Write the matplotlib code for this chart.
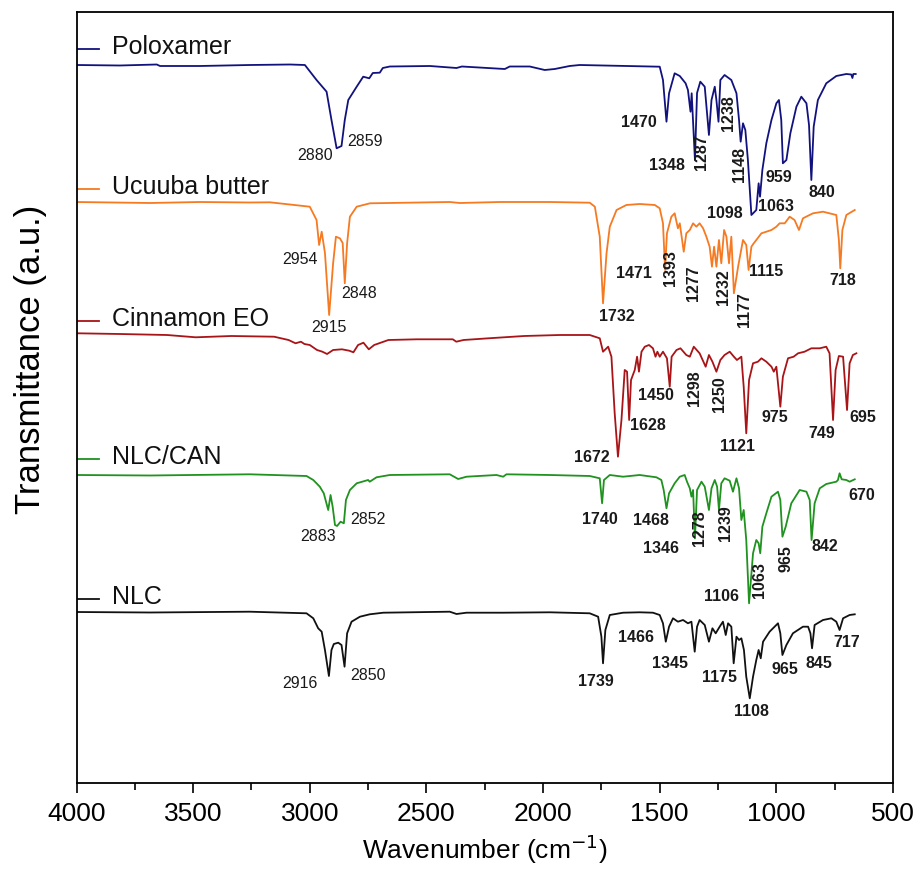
import matplotlib
matplotlib.use("Agg")
import matplotlib.pyplot as plt
from matplotlib.ticker import MultipleLocator

plt.rcParams['font.family'] = ['Liberation Sans', 'DejaVu Sans']

# ---------------- data (wavenumber in cm-1, transmittance in a.u., relative to each baseline) -------------
series_names = ["Poloxamer", "Ucuuba butter", "Cinnamon EO", "NLC/CAN", "NLC"]
series_colors = ["#12127e", "#f57a22", "#a81417", "#1f921f", "#111111"]

poloxamer_wn = [4000, 3814, 3656, 3642, 3471, 3257, 3085, 3021, 2971, 2928, 2907, 2885, 2864, 2850, 2835,
                2799, 2771, 2745, 2730, 2700, 2687, 2657, 2485, 2371, 2348, 2164, 2143, 2057, 1993, 1950,
                1886, 1843, 1500, 1486, 1471, 1460, 1436, 1414, 1389, 1379, 1368, 1363, 1349, 1340, 1326,
                1307, 1289, 1278, 1264, 1257, 1248, 1240, 1222, 1193, 1171, 1160, 1153, 1143, 1133, 1122,
                1107, 1086, 1076, 1070, 1060, 1043, 1021, 1000, 989, 979, 972, 957, 940, 914, 893, 871,
                860, 850, 840, 822, 786, 743, 700, 679, 674, 670, 660]
poloxamer_t = [0, -0.5, 0.5, -1, -1, 0, 0.5, 0, -15, -26.7, -55, -83.3, -81, -55, -35,
               -21.7, -11.7, -13.3, -8, -7.7, -3, -1.5, -1, -3, -1.5, -4, -1.5, -1.5, -5, -4,
               -1, 0, -1.7, -15, -56.7, -28.3, -8.3, -11, -18.3, -25, -46.7, -28.3, -95, -28, -16.7,
               -21.7, -70, -35, -21.7, -35, -56.7, -15, -10, -15, -28.3, -55, -76.7, -58.3, -65, -95,
               -150, -145, -118.3, -131.7, -105, -78.3, -55, -38.3, -35, -55, -98.3, -95, -68.3, -41.7, -31.7, -38.3,
               -60, -115, -61.7, -35, -18.3, -11, -9, -9.5, -13, -9, -9]

ucuuba_wn = [4000, 3685, 3471, 3257, 3171, 3000, 2971, 2960, 2949, 2935, 2917, 2900, 2888, 2871, 2859,
             2850, 2840, 2828, 2799, 2742, 2528, 2400, 2357, 2185, 1971, 1800, 1778, 1757, 1743, 1728,
             1714, 1685, 1643, 1586, 1521, 1500, 1486, 1477, 1469, 1450, 1436, 1422, 1414, 1397, 1386,
             1371, 1357, 1343, 1329, 1314, 1300, 1286, 1276, 1267, 1257, 1246, 1236, 1224, 1214, 1203,
             1193, 1182, 1164, 1143, 1129, 1119, 1107, 1097, 1086, 1064, 1043, 1021, 1000, 986, 964,
             943, 922, 903, 886, 843, 800, 743, 732, 726, 717, 700, 664]
ucuuba_t = [0.5, -0.5, 0.5, 0, 0.2, -4.2, -17.5, -42.5, -29.2, -50.5, -112.5, -60.8, -34.2, -35.8, -40.5,
            -80.8, -40.8, -14.2, -4.2, -0.8, 0, 0.5, -0.5, 0.5, 0.5, -0.2, -4.2, -34.2, -100.8, -50.8,
            -24.2, -7.5, -2.5, -1.5, -2.5, -5.8, -20.8, -67.5, -30.8, -14.2, -10.8, -25.8, -20.8, -49.2, -30.8,
            -27.5, -20.8, -24.2, -20.8, -25.8, -34.2, -44.2, -64.2, -44.2, -64.2, -37.5, -60.8, -27.5, -34.2, -60.8,
            -34.2, -90.8, -64.2, -37.5, -42.5, -67.5, -44.2, -40.8, -37.5, -30.8, -29.2, -27.5, -24.2, -20.8, -20.8,
            -14.2, -17.5, -27.5, -15.8, -10.8, -9.2, -12.5, -37.5, -65.8, -27.5, -12.5, -7.5]

cinnamon_wn = [3994, 3814, 3612, 3489, 3336, 3153, 3091, 3061, 3038, 3023, 3000, 2969, 2946, 2926, 2900,
               2862, 2831, 2813, 2793, 2770, 2747, 2724, 2663, 2541, 2387, 2372, 2341, 2234, 2081, 1928,
               1800, 1757, 1743, 1721, 1707, 1693, 1679, 1664, 1650, 1640, 1631, 1623, 1607, 1597, 1589,
               1578, 1564, 1546, 1529, 1518, 1510, 1500, 1486, 1469, 1457, 1449, 1428, 1411, 1386, 1371,
               1354, 1329, 1303, 1289, 1274, 1257, 1240, 1222, 1200, 1182, 1169, 1150, 1140, 1129, 1117,
               1100, 1079, 1064, 1043, 1021, 1011, 1000, 983, 972, 950, 926, 907, 879, 850, 814,
               786, 772, 757, 746, 732, 714, 697, 686, 672, 657]
cinnamon_t = [1.7, 1, 0, -2.3, -1, -1.7, -5, -8.3, -6.7, -9, -10, -15, -16.7, -19, -15,
              -14.3, -15.7, -17.3, -10, -7.7, -14.3, -10, -5, -4.3, -4.3, -6.7, -5, -3.3, -1, 0,
              0, -3.3, -16.7, -11.7, -21.7, -78.3, -121.7, -85, -35, -36.7, -85, -45, -35, -21.7, -36.7,
              -16.7, -11.7, -10, -13.3, -21.7, -16.7, -21.7, -16.7, -23.3, -51.7, -21.7, -15, -13.3, -20, -21.7,
              -11.7, -18.3, -31.7, -20, -26.7, -36.7, -25, -20, -16.7, -21.7, -25, -21.7, -51.7, -98.3, -45,
              -28.3, -26.7, -23.3, -26.7, -31.7, -36.7, -31.7, -71.7, -41.7, -23.3, -21.7, -18.3, -16.7, -13.3, -13.3,
              -11.7, -18.3, -85, -35, -21, -21.7, -75, -28.3, -20, -18.3]

nlccan_wn = [4000, 3685, 3257, 3014, 2985, 2957, 2940, 2921, 2911, 2902, 2892, 2883, 2868, 2854, 2845,
             2828, 2799, 2750, 2743, 2714, 2657, 2400, 2364, 2328, 2200, 2171, 2157, 1971, 1800, 1757,
             1747, 1739, 1714, 1657, 1586, 1514, 1493, 1483, 1471, 1460, 1436, 1414, 1393, 1383, 1371,
             1364, 1357, 1349, 1340, 1321, 1307, 1289, 1278, 1264, 1254, 1246, 1236, 1222, 1200, 1186,
             1171, 1160, 1150, 1140, 1129, 1117, 1100, 1086, 1076, 1069, 1060, 1043, 1021, 993, 983,
             974, 960, 936, 900, 871, 857, 849, 836, 814, 786, 743, 736, 729, 720, 700,
             686, 664]
nlccan_t = [0, -0.5, 0.7, -1, -5, -11.7, -18.3, -35, -20, -31.7, -50, -51, -46.7, -48.3, -25,
            -15, -8.3, -5, -6.7, -2.3, 0, 0.7, -4, -1.7, 0, -1.7, 0.7, 0, -1, -3.3,
            -28.3, -5, 0, -1.7, 0, -2.3, -5, -15, -33.3, -18.3, -8.3, -1.7, 0, -6.7, -13.3,
            -21.7, -15, -63.3, -15, -6.7, -11.7, -35, -13.3, -5, -11.7, -35, -8.3, -3.3, -5.7, -16.7,
            -3.3, -13.3, -45, -35, -65, -128.3, -78.3, -65, -68.3, -78.3, -51.7, -38.3, -21.7, -16.7, -25,
            -61.7, -51.7, -28.3, -15, -16.7, -25, -65, -28.3, -13.3, -9, -6.7, -5, 1.7, -4.3, -5,
            -6.7, -4.3]

nlc_wn = [4000, 3685, 3257, 3014, 2985, 2964, 2949, 2935, 2918, 2907, 2897, 2878, 2864, 2851, 2840,
          2821, 2785, 2743, 2685, 2400, 2371, 2328, 2171, 1971, 1800, 1764, 1750, 1743, 1733, 1714,
          1657, 1586, 1529, 1500, 1486, 1474, 1460, 1443, 1422, 1400, 1379, 1364, 1350, 1340, 1329,
          1307, 1289, 1274, 1260, 1243, 1229, 1217, 1207, 1193, 1183, 1171, 1160, 1150, 1139, 1129,
          1114, 1100, 1086, 1076, 1067, 1057, 1029, 993, 983, 974, 957, 929, 886, 864, 854,
          847, 836, 800, 764, 743, 729, 714, 686, 664]
nlc_t = [0, -0.5, 0.3, -1.3, -6.3, -16.3, -19.7, -38, -64, -38, -32, -30.7, -33, -54.7, -21.3,
         -9.7, -4.7, -2.3, -0.7, 0.3, -2, -0.7, -0.7, -0.3, -1.3, -4.7, -24.7, -51.3, -18, -3,
         -0.7, -0.3, -0.7, -3, -11.3, -29.7, -14.7, -6.3, -9.7, -8, -11.3, -9.7, -39.7, -14.7, -8,
         -13, -29.7, -16.3, -21.3, -14.7, -9.7, -23, -11.3, -14.7, -51.3, -24.7, -28, -26.3, -38, -64.7,
         -86.3, -64.7, -48, -38, -46.3, -29.7, -19.7, -11.3, -21.3, -43, -33, -21.3, -14.7, -14.7, -21.3,
         -36.3, -13, -8, -6.3, -9.7, -18, -6.3, -3, -2.3]

# vertical stacking offsets (a.u.)
offsets = [718, 580.5, 448, 308, 171]

# peak labels: (text, wavenumber position, y position, rotation, bold)
peak_labels = [
    # Poloxamer
    ("2880", 2978, 628, 0, False), ("2859", 2764, 641.3, 0, False),
    ("1470", 1589, 660.7, 0, True), ("1348", 1469, 617, 0, True),
    ("1287", 1321, 631.3, 90, True), ("1238", 1207, 669.7, 90, True),
    ("1148", 1160, 618, 90, True), ("959", 989, 605.7, 0, True),
    ("840", 807, 590.7, 0, True), ("1098", 1221, 569.7, 0, True),
    ("1063", 1000, 576.3, 0, True),
    # Ucuuba butter
    ("2954", 3042, 523.7, 0, False), ("2848", 2788, 489, 0, False),
    ("2915", 2920, 456, 0, False), ("1732", 1685, 466.3, 0, True),
    ("1471", 1611, 509.7, 0, True), ("1393", 1454, 514.7, 90, True),
    ("1277", 1354, 499.7, 90, True), ("1232", 1226, 496.3, 90, True),
    ("1177", 1136, 473, 90, True), ("1115", 1043, 511.3, 0, True),
    ("718", 714, 502.3, 0, True),
    # Cinnamon EO
    ("1672", 1791, 326, 0, True), ("1628", 1550, 358, 0, True),
    ("1450", 1517, 387, 0, True), ("1298", 1350, 394.7, 90, True),
    ("1250", 1243, 389, 90, True), ("1121", 1167, 336.3, 0, True),
    ("975", 1007, 365.7, 0, True), ("749", 807, 349.7, 0, True),
    ("695", 629, 365.7, 0, True),
    # NLC/CAN
    ("2883", 2964, 246.3, 0, False), ("2852", 2750, 264, 0, False),
    ("1740", 1757, 263.7, 0, True), ("1468", 1536, 262.3, 0, True),
    ("1346", 1493, 234.7, 0, True), ("1278", 1329, 254.7, 90, True),
    ("1239", 1217, 259.7, 90, True), ("1106", 1236, 186.3, 0, True),
    ("1063", 1072, 203, 90, True), ("965", 957, 224.7, 90, True),
    ("842", 793, 236.3, 0, True), ("670", 636, 287, 0, True),
    # NLC
    ("2916", 3042, 99.7, 0, False), ("2850", 2750, 108, 0, False),
    ("1739", 1774, 101, 0, True), ("1466", 1600, 145.7, 0, True),
    ("1345", 1457, 119.7, 0, True), ("1175", 1243, 105.7, 0, True),
    ("1108", 1107, 71.3, 0, True), ("965", 964, 113.7, 0, True),
    ("845", 817, 119, 0, True), ("717", 700, 140.3, 0, True),
]

# name label positions (y, a.u.)
name_label_y = [736, 596, 464, 326, 186]

xticks = [4000, 3500, 3000, 2500, 2000, 1500, 1000, 500]

# ---------------- figure -------------
fig = plt.figure(figsize=(9.17, 8.74), dpi=100)
ax = fig.add_axes([76.5 / 917, (874 - 783) / 874, (893 - 76.5) / 917, (783 - 12) / 874])

all_wn = [poloxamer_wn, ucuuba_wn, cinnamon_wn, nlccan_wn, nlc_wn]
all_t = [poloxamer_t, ucuuba_t, cinnamon_t, nlccan_t, nlc_t]

for wn, t, off, col in zip(all_wn, all_t, offsets, series_colors):
    ax.plot(wn, [v + off for v in t], color=col, lw=1.3, solid_joinstyle='round')

for name, col, y in zip(series_names, series_colors, name_label_y):
    ax.plot([4000, 3905], [y - 2, y - 2], color=col, lw=1.3)
    ax.text(3848, y, name, fontsize=18, ha='left', va='center', color='#111111')

for text, x, y, rot, bold in peak_labels:
    ax.text(x, y, text, fontsize=11.5, ha='center', va='center', rotation=rot,
            fontweight='bold' if bold else 'normal', color='#1a1a1a')

ax.set_xlim(4000, 500)
ax.set_ylim(0, 771)
ax.set_xticks(xticks)
ax.xaxis.set_minor_locator(MultipleLocator(250))
ax.set_yticks([])
ax.tick_params(axis='x', which='major', direction='out', length=7.5, width=1.2, labelsize=19, pad=6)
ax.tick_params(axis='x', which='minor', direction='out', length=5, width=1.2)
for s in ax.spines.values():
    s.set_linewidth(1.3)

ax.set_xlabel("Wavenumber (cm$^{-1}$)", fontsize=19, labelpad=5)
ax.set_ylabel("Transmittance (a.u.)", fontsize=25)
ax.yaxis.set_label_coords(-0.036, 0.55)

fig.savefig("out.png", dpi=100)
